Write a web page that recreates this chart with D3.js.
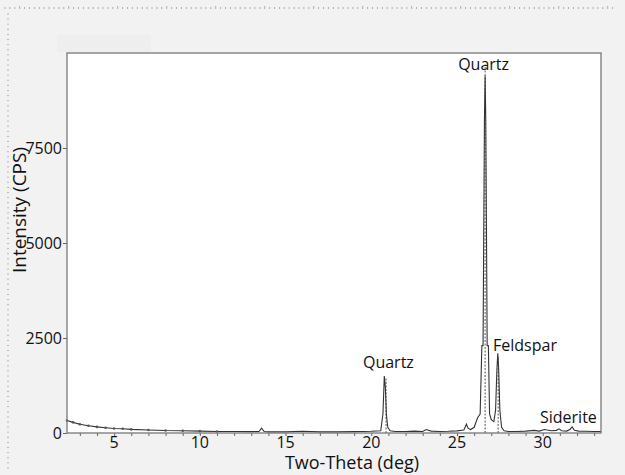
<!DOCTYPE html>
<html>
<head>
<meta charset="utf-8">
<script src="https://cdn.jsdelivr.net/npm/d3@7"></script>
<style>
  body { margin: 0; background: #f2f2f2; }
  svg { display: block; font-family: "Open Sans", "Liberation Sans", sans-serif; }
</style>
</head>
<body>
<div id="chart"></div>
<script>
// measured pattern, two-theta (deg) vs intensity (CPS)
var twoTheta = [2.25, 2.6, 3, 3.5, 4, 4.5, 5, 5.5, 6, 7, 8, 9, 10, 11, 12, 13, 13.45, 13.6, 13.75, 14,
  15, 16, 17, 18, 19, 20, 20.55, 20.68, 20.76, 20.82, 20.88, 20.96, 21.1, 21.4, 22, 22.5, 23, 23.2, 23.5,
  24, 24.5, 25, 25.4, 25.55, 25.65, 25.8, 26.0, 26.2, 26.35, 26.45, 26.52, 26.6, 26.64, 26.68, 26.76,
  26.83, 26.9, 27.0, 27.15, 27.25, 27.33, 27.38, 27.43, 27.5, 27.6, 27.75, 28, 28.5, 29, 29.5, 29.8,
  30.1, 30.5, 30.8, 30.95, 31.1, 31.4, 31.6, 31.72, 31.85, 32.1, 32.5, 33, 33.4];
var intensity = [330, 280, 230, 190, 160, 140, 120, 110, 95, 80, 65, 60, 50, 40, 40, 35, 40, 130, 40, 30,
  30, 45, 30, 30, 35, 45, 60, 500, 1500, 1200, 500, 150, 60, 40, 40, 50, 40, 90, 50,
  40, 45, 55, 80, 230, 120, 90, 150, 400, 500, 2300, 2300, 8200, 9400, 8200, 2300,
  2300, 500, 350, 300, 600, 1700, 2100, 1700, 600, 150, 60, 40, 40, 50, 70, 50,
  90, 60, 70, 110, 60, 50, 100, 160, 70, 50, 45, 40, 40];

// reference lines (dashed sticks)
var refPos = [20.86, 26.64, 27.4];
var refHeight = [1450, 9700, 2000];

var peakNames = ["Quartz", "Quartz", "Feldspar", "Siderite"];
var peakAt = [21.0, 26.55, 27.1, 29.84];
var peakLabelY = [1710, 9560, 2170, 260];

var xTicks = [5, 10, 15, 20, 25, 30];
var yTicks = [0, 2500, 5000, 7500];

var width = 625, height = 475;
var margin = {top: 53, right: 24, bottom: 42, left: 67};
var w = width - margin.left - margin.right;
var h = height - margin.top - margin.bottom;

var svg = d3.select("#chart").append("svg")
    .attr("width", width)
    .attr("height", height);

svg.append("rect").attr("width", width).attr("height", height).attr("fill", "#f2f2f2");
svg.append("rect").attr("x", 57).attr("y", 35).attr("width", 94).attr("height", 17).attr("fill", "#eeeeee");

// ruler decorations along top and left edge
svg.append("g").selectAll("line")
  .data(d3.range(0, 125))
  .enter().append("line")
    .attr("x1", function(d){ return 5 + d * 4.9; })
    .attr("x2", function(d){ return 5 + d * 4.9; })
    .attr("y1", function(d){ return d % 10 == 3 ? 6 : 7; })
    .attr("y2", 9)
    .attr("stroke", "#999")
    .attr("stroke-width", 0.8);
svg.append("g").selectAll("line")
  .data(d3.range(0, 90))
  .enter().append("line")
    .attr("x1", 7)
    .attr("x2", 9)
    .attr("y1", function(d){ return 14 + d * 5.1; })
    .attr("y2", function(d){ return 14 + d * 5.1; })
    .attr("stroke", "#aaa")
    .attr("stroke-width", 0.8);

var g = svg.append("g").attr("transform", "translate(" + margin.left + "," + margin.top + ")");

var x = d3.scaleLinear().domain([2.25, 33.4]).range([0, w]);
var y = d3.scaleLinear().domain([0, 10000]).range([h, 0]);

g.append("rect").attr("width", w).attr("height", h).attr("fill", "#fff");

// x axis: minor ticks each degree, labels every 5
var xAxis = g.append("g")
    .attr("transform", "translate(0," + h + ")")
    .call(d3.axisBottom(x).tickValues(d3.range(3, 34)).tickSize(3).tickFormat(""));
xAxis.select(".domain").remove();
xAxis.selectAll("line").attr("stroke", "#666");
g.append("g")
    .attr("transform", "translate(0," + h + ")")
    .selectAll("text")
    .data(xTicks)
    .enter().append("text")
      .attr("x", function(d){ return x(d); })
      .attr("y", 15)
      .attr("text-anchor", "middle")
      .style("font-size", "16px")
      .attr("fill", "#111")
      .text(function(d){ return d; });

var yAxis = g.append("g")
    .call(d3.axisLeft(y).tickValues(yTicks).tickSize(4).tickPadding(1).tickFormat(d3.format("d")));
yAxis.select(".domain").remove();
yAxis.selectAll("line").attr("stroke", "#666");
yAxis.selectAll("text").style("font-size", "16px").attr("fill", "#111")
    .attr("font-family", "'Open Sans', 'Liberation Sans', sans-serif");

// reference sticks
g.append("g").selectAll("line")
  .data(refPos)
  .enter().append("line")
    .attr("x1", function(d){ return x(d); })
    .attr("x2", function(d){ return x(d); })
    .attr("y1", y(0))
    .attr("y2", function(d, i){ return y(refHeight[i]); })
    .attr("stroke", "#555")
    .attr("stroke-width", 1)
    .attr("stroke-dasharray", "2,1.5");

var line = d3.line()
    .x(function(d, i){ return x(twoTheta[i]); })
    .y(function(d){ return y(d); });

g.append("path")
    .datum(intensity)
    .attr("d", line)
    .attr("fill", "none")
    .attr("stroke", "#333")
    .attr("stroke-width", 1.1);

// small markers along the low-angle background
g.append("g").selectAll("circle")
  .data(intensity.filter(function(d, i){ return twoTheta[i] < 12; }))
  .enter().append("circle")
    .attr("cx", function(d, i){ return x(twoTheta[i]); })
    .attr("cy", function(d){ return y(d); })
    .attr("r", 1.3)
    .attr("fill", "#555");

// plot border
g.append("rect").attr("width", w).attr("height", h)
    .attr("fill", "none").attr("stroke", "#777").attr("stroke-width", 1.3);

// peak labels
g.append("g").selectAll("text")
  .data(peakNames)
  .enter().append("text")
    .attr("x", function(d, i){ return x(peakAt[i]); })
    .attr("y", function(d, i){ return y(peakLabelY[i]); })
    .attr("text-anchor", function(d, i){ return i >= 2 ? "start" : "middle"; })
    .style("font-size", "16px")
    .attr("fill", "#111")
    .text(function(d){ return d; });

svg.append("text")
    .attr("x", 352)
    .attr("y", 469)
    .attr("text-anchor", "middle")
    .style("font-size", "18px")
    .attr("fill", "#111")
    .text("Two-Theta (deg)");

svg.append("text")
    .attr("transform", "translate(26,210) rotate(-90)")
    .attr("text-anchor", "middle")
    .style("font-size", "19px")
    .attr("fill", "#111")
    .text("Intensity (CPS)");
</script>
</body>
</html>
